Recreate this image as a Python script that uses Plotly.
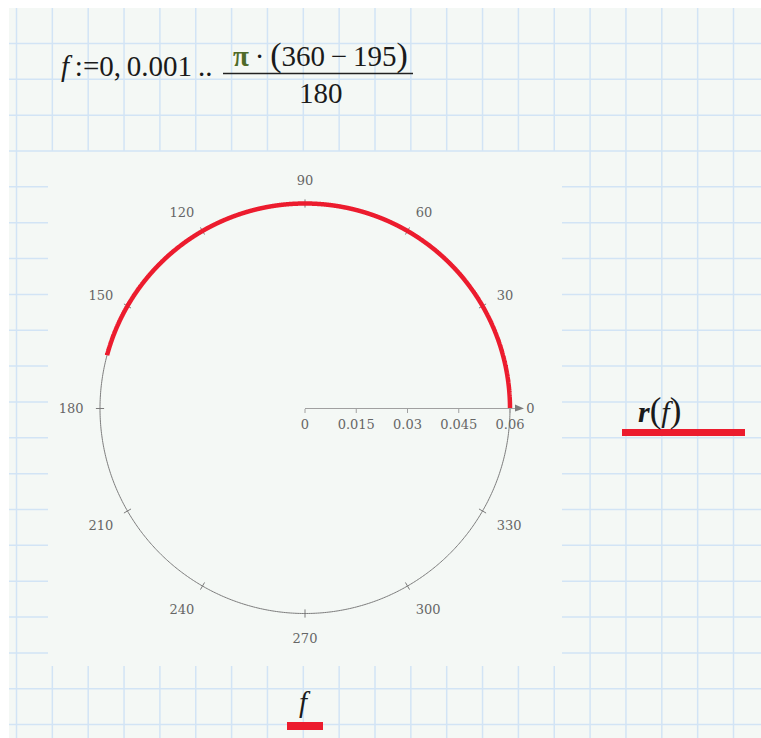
import numpy as np
import plotly.graph_objects as go

# ---- data -------------------------------------------------------------
# f := 0, 0.001 .. pi*(360-195)/180   (radians)
F_START = 0.0
F_STEP = 0.001
F_END = np.pi * (360 - 195) / 180
R_VALUE = 0.06                      # r(f)

angle_ticks = [0, 30, 60, 90, 120, 150, 180, 210, 240, 270, 300, 330]
angle_labels = [str(a) for a in angle_ticks]
radial_ticks = [0, 0.015, 0.03, 0.045, 0.06]
radial_labels = ["0", "0.015", "0.03", "0.045", "0.06"]
R_OUTER = 0.06                      # radius of the drawn frame circle
R_AXIS_MAX = 0.063                  # radial axis runs a little past it

f = np.arange(F_START, F_END + 1e-12, F_STEP)
theta_deg = np.degrees(f)
r = np.full_like(f, R_VALUE)

# ---- page geometry ----------------------------------------------------
W, H = 761, 738
PAGE_BG = "#f4f8f5"
GRID = "#d2e4f5"
AXIS_GRAY = "#7c7c7c"
LABEL_GRAY = "#666666"
RED = "#ec1c2e"


def px(x):
    return x / W


def py(y):
    return 1 - y / H


shapes = [
    dict(type="rect", xref="paper", yref="paper",
         x0=px(9), x1=px(W), y0=py(H), y1=py(8),
         fillcolor=PAGE_BG, line=dict(width=0), layer="below"),
]

# worksheet grid, left open behind the plot region
REG_X0, REG_X1, REG_Y0, REG_Y1 = 48, 562, 151, 666
STEP = 35.85
for k in range(21):
    x = 16.5 + STEP * k
    if REG_X0 < x < REG_X1:
        spans = [(8, REG_Y0), (REG_Y1, H)]
    else:
        spans = [(8, H)]
    for a, b in spans:
        shapes.append(dict(type="line", xref="paper", yref="paper",
                           x0=px(x), x1=px(x), y0=py(a), y1=py(b),
                           line=dict(color=GRID, width=1.5), layer="below"))
for k in range(-3, 17):
    y = REG_Y0 + STEP * k
    if REG_Y0 < y < REG_Y1:
        spans = [(9, REG_X0), (REG_X1, W)]
    else:
        spans = [(9, W)]
    for a, b in spans:
        shapes.append(dict(type="line", xref="paper", yref="paper",
                           x0=px(a), x1=px(b), y0=py(y), y1=py(y),
                           line=dict(color=GRID, width=1.5), layer="below"))

# arrowhead at the end of the radial axis
shapes.append(dict(type="path", xref="paper", yref="paper",
                   path=f"M {px(515)} {py(404.5)} L {px(515)} {py(411.5)} "
                        f"L {px(524)} {py(408.5)} Z",
                   fillcolor=AXIS_GRAY, line=dict(width=0)))

# fraction bar of the range definition
shapes.append(dict(type="line", xref="paper", yref="paper",
                   x0=px(223), x1=px(413), y0=py(73.5), y1=py(73.5),
                   line=dict(color="#222222", width=1.6)))

# red placeholder bars under r(f) and f
shapes.append(dict(type="rect", xref="paper", yref="paper",
                   x0=px(622), x1=px(745), y0=py(436), y1=py(429),
                   fillcolor=RED, line=dict(width=0)))
shapes.append(dict(type="rect", xref="paper", yref="paper",
                   x0=px(287), x1=px(323), y0=py(730), y1=py(722),
                   fillcolor=RED, line=dict(width=0)))

# ---- traces -----------------------------------------------------------
fig = go.Figure()

# frame circle
ring_t = np.linspace(0, 360, 721)
fig.add_trace(go.Scatterpolar(r=np.full_like(ring_t, R_OUTER), theta=ring_t,
                              mode="lines",
                              line=dict(color=AXIS_GRAY, width=1),
                              hoverinfo="skip", showlegend=False))

# small tick marks crossing the circle
tick_r, tick_t = [], []
for a in angle_ticks:
    tick_r += [0.0588, 0.0612, None]
    tick_t += [a, a, None]
fig.add_trace(go.Scatterpolar(r=tick_r, theta=tick_t, mode="lines",
                              line=dict(color=AXIS_GRAY, width=1),
                              hoverinfo="skip", showlegend=False))

# r(f)
fig.add_trace(go.Scatterpolar(r=r, theta=theta_deg, mode="lines",
                              line=dict(color=RED, width=4.5),
                              showlegend=False))

cx, cy, rad = 305, 408.5, 205 * R_AXIS_MAX / R_OUTER
fig.update_layout(
    width=W, height=H, autosize=False,
    margin=dict(l=0, r=0, t=0, b=0),
    paper_bgcolor="white",
    shapes=shapes,
    polar=dict(
        domain=dict(x=[px(cx - rad), px(cx + rad)],
                    y=[py(cy + rad), py(cy - rad)]),
        bgcolor="rgba(0,0,0,0)",
        angularaxis=dict(
            direction="counterclockwise", rotation=0,
            tickmode="array", tickvals=angle_ticks, ticktext=angle_labels,
            showgrid=False, showline=False,
            ticks="outside", ticklen=3, tickcolor="rgba(0,0,0,0)",
            tickfont=dict(family="DejaVu Serif", size=13, color=LABEL_GRAY),
        ),
        radialaxis=dict(
            range=[0, R_AXIS_MAX], angle=0, side="clockwise",
            tickmode="array", tickvals=radial_ticks, ticktext=radial_labels,
            showgrid=False, showline=True, linecolor="#a0a0a0", linewidth=1,
            ticks="outside", ticklen=4, tickcolor="#a0a0a0",
            tickfont=dict(family="DejaVu Serif", size=13, color=LABEL_GRAY),
        ),
    ),
)

SERIF = "Liberation Serif"
INK = "#1a1a1a"
TS = "\u2009"   # thin space between operators
annotations = [
    dict(x=px(59), y=py(66), xanchor="left", yanchor="middle",
         text=f"<i>f</i>{TS}:=0,{TS}0.001{TS}..",
         font=dict(family=SERIF, size=29, color=INK)),
    dict(x=px(320), y=py(55), xanchor="center", yanchor="middle",
         text=(f"<b><span style='color:#4f6b2a'>π</span></b>{TS}·{TS}"
               f"<span style='font-size:34px'>(</span>360{TS}−{TS}195"
               f"<span style='font-size:34px'>)</span>"),
         font=dict(family=SERIF, size=29, color=INK)),
    dict(x=px(321), y=py(93), xanchor="center", yanchor="middle",
         text="180", font=dict(family=SERIF, size=29, color=INK)),
    dict(x=px(659), y=py(410), xanchor="center", yanchor="middle",
         text="<b><i>r</i></b><span style='font-size:35px'>(</span><i>f</i>"
              "<span style='font-size:35px'>)</span>",
         font=dict(family=SERIF, size=30, color=INK)),
    dict(x=px(305), y=py(702), xanchor="center", yanchor="middle",
         text="<i>f</i>", font=dict(family=SERIF, size=29, color=INK)),
]
for a in annotations:
    a.update(xref="paper", yref="paper", showarrow=False)
fig.update_layout(annotations=annotations)

fig.write_html("out.html")
